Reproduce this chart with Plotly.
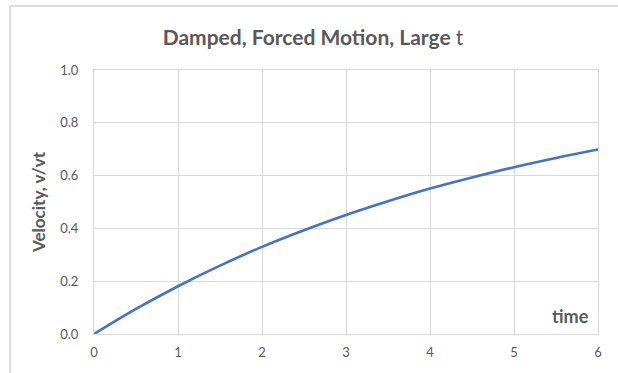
import plotly.graph_objects as go

time_vals = [0, 0.5, 1, 1.5, 2, 2.5, 3, 3.5, 4, 4.5, 5, 5.5, 6]
velocity = [0, 0.095, 0.181, 0.259, 0.330, 0.393, 0.451, 0.503, 0.551, 0.593, 0.632, 0.667, 0.699]
x_ticks = [0, 1, 2, 3, 4, 5, 6]
y_ticks = [0.0, 0.2, 0.4, 0.6, 0.8, 1.0]
y_tick_labels = ["0.0", "0.2", "0.4", "0.6", "0.8", "1.0"]

W, H = 618, 373
L, R, T, B = 94, 20, 70, 39
pw, ph = W - L - R, H - T - B

grey = "#595959"
grid = "#d9d9d9"
font = "Lato, Carlito, 'Open Sans', sans-serif"

fig = go.Figure()
fig.add_trace(go.Scatter(
    x=time_vals, y=velocity, mode="lines",
    line=dict(color="#4472C4", width=2.6, shape="spline"),
    showlegend=False, hoverinfo="skip",
))

fig.update_layout(
    width=W, height=H,
    margin=dict(l=L, r=R, t=T, b=B),
    paper_bgcolor="white", plot_bgcolor="white",
    font=dict(family=font, color=grey, size=13),
    title=dict(
        text="<b>Damped, Forced Motion, Large </b>t",
        x=313 / W, xanchor="center", y=1 - 38 / H, yanchor="middle",
        font=dict(size=21, color=grey, family=font),
    ),
    xaxis=dict(
        range=[0, 6], tickvals=x_ticks, showgrid=True, gridcolor=grid, gridwidth=1,
        showline=True, linecolor=grid, linewidth=1, mirror=True,
        zeroline=False, ticks="", tickfont=dict(size=13, color=grey), ticklabelstandoff=6,
        fixedrange=True,
    ),
    yaxis=dict(
        range=[0, 1], tickvals=y_ticks, ticktext=y_tick_labels, showgrid=True,
        gridcolor=grid, gridwidth=1, showline=True, linecolor=grid, linewidth=1,
        mirror=True, zeroline=False, ticks="", tickfont=dict(size=13, color=grey),
        ticklabelstandoff=12,
        title=dict(text="<b>Velocity, v/vt</b>", font=dict(size=17, color=grey), standoff=10),
        fixedrange=True,
    ),
)

fig.add_annotation(
    text="<b>time</b>", xref="paper", yref="paper",
    x=(591 - L) / pw, y=(H - B - 316) / ph, xanchor="right", yanchor="middle",
    showarrow=False, font=dict(size=18, color=grey, family=font),
)

# outer chart-area border (only left and top visible in the crop)
fig.add_shape(type="line", xref="paper", yref="paper",
              x0=(10 - L) / pw, x1=(10 - L) / pw, y0=(H - T - B + 64) / ph, y1=-B / ph - 0.1,
              line=dict(color="#d0d0d0", width=1.5))
fig.add_shape(type="line", xref="paper", yref="paper",
              x0=(10 - L) / pw, x1=(W - L) / pw + 0.1, y0=(H - T - B + 64) / ph, y1=(H - T - B + 64) / ph,
              line=dict(color="#d0d0d0", width=1.5))

fig.write_html(
    "out.html",
    config={"displayModeBar": False, "staticPlot": True},
    post_script="document.body.style.margin='0';document.body.style.overflow='hidden';",
)
